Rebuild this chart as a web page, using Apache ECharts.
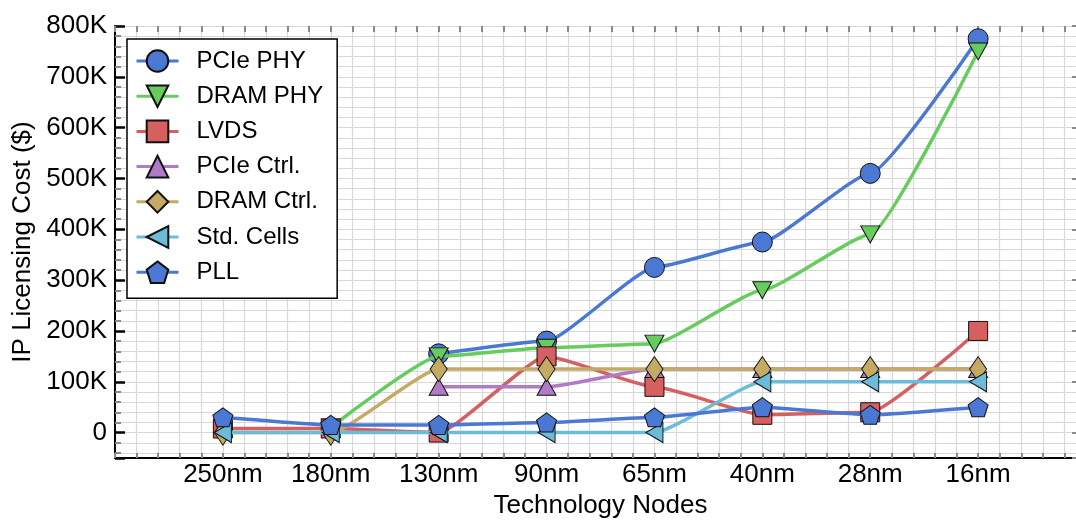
<!DOCTYPE html>
<html>
<head>
<meta charset="utf-8">
<script src="https://cdn.jsdelivr.net/npm/echarts@6/dist/echarts.min.js"></script>
<style>
html,body{margin:0;padding:0;background:#fff;}
#chart{width:1076px;height:520px;}
</style>
</head>
<body>
<div id="chart"></div>
<script>
var categories = ['250nm','180nm','130nm','90nm','65nm','40nm','28nm','16nm'];
var pciePhy  = [null, null, 155000, 180000, 325000, 375000, 510000, 775000];
var dramPhy  = [null, 10000, 150000, 167000, 175000, 280000, 390000, 750000];
var lvds     = [8000, 8000, 0, 150000, 90000, 35000, 40000, 200000];
var pcieCtrl = [null, null, 90000, 90000, 125000, 125000, 125000, 125000];
var dramCtrl = [0, 0, 125000, 125000, 125000, 125000, 125000, 125000];
var stdCells = [0, 0, 0, 0, 0, 100000, 100000, 100000];
var pll      = [30000, 15000, 15000, 20000, 30000, 50000, 35000, 50000];
var seriesNames = ['PCIe PHY','DRAM PHY','LVDS','PCIe Ctrl.','DRAM Ctrl.','Std. Cells','PLL'];
var colors = ['#4a78d2','#66cc5e','#d65f5f','#b07ac8','#c4aa62','#6bbcd8','#4a78d2'];

var pentagon = 'path://M0,-1 L0.951,-0.309 L0.588,0.809 L-0.588,0.809 L-0.951,-0.309 Z';
var symbols = [
  {symbol:'circle', size:20, rotate:0},
  {symbol:'triangle', size:[19,17], rotate:180},
  {symbol:'rect', size:19, rotate:0},
  {symbol:'triangle', size:[19,17], rotate:0},
  {symbol:'diamond', size:[17,25], rotate:0},
  {symbol:'triangle', size:[20,17], rotate:90},
  {symbol:pentagon, size:[20,19], rotate:0}
];
var allData = [pciePhy, dramPhy, lvds, pcieCtrl, dramCtrl, stdCells, pll];

function toPairs(arr){
  return arr.map(function(v,i){ return [i, v]; });
}

var series = allData.map(function(arr, k){
  return {
    name: seriesNames[k],
    type: 'line',
    data: toPairs(arr),
    smooth: 0.15,
    smoothMonotone: 'x',
    symbol: symbols[k].symbol,
    symbolSize: symbols[k].size,
    symbolRotate: symbols[k].rotate,
    showAllSymbol: true,
    lineStyle: {color: colors[k], width: 3.5},
    itemStyle: {color: colors[k], borderColor: '#111', borderWidth: 1, opacity: 1},
    emphasis: {disabled: true},
    z: 2 + k
  };
});

var font = 'Liberation Sans, Arial, Helvetica, sans-serif';
var gridColor = '#d8d8d8';
var tickGray = '#8a8a8a';

var chart = echarts.init(document.getElementById('chart'), null, {renderer:'canvas'});
chart.setOption({
  animation: false,
  backgroundColor: '#fff',
  textStyle: {fontFamily: font},
  grid: {left: 115, right: -10, top: 26, bottom: 62, containLabel: false, outerBoundsMode: 'none'},
  legend: {
    orient: 'vertical',
    left: 127, top: 39,
    data: seriesNames,
    backgroundColor: '#fff',
    borderColor: '#000',
    borderWidth: 1.5,
    borderRadius: 0,
    padding: [10, 14, 14, 8],
    itemWidth: 42,
    itemHeight: 27,
    itemGap: 11.2,
    lineStyle: {width: 3},
    textStyle: {fontSize: 24, color: '#000', fontFamily: font, padding: [0,0,0,13]},
    z: 20
  },
  xAxis: [{
    type: 'value',
    position: 'bottom',
    min: -1, max: 8, interval: 1,
    name: 'Technology Nodes',
    nameLocation: 'middle',
    nameGap: 31,
    nameTextStyle: {fontSize: 26, color: '#000', fontFamily: font},
    axisLine: {show: true, onZero: false, lineStyle: {color: '#000', width: 2}},
    axisTick: {show: true, inside: true, length: 5, lineStyle: {color: tickGray, width: 2}},
    minorTick: {show: true, splitNumber: 5, length: 5, lineStyle: {color: tickGray, width: 2}},
    axisLabel: {
      fontSize: 26, color: '#000', fontFamily: font, margin: 4,
      formatter: function(v){ return (v >= 0 && v < categories.length) ? categories[v] : ''; }
    },
    splitLine: {show: true, lineStyle: {color: gridColor, width: 1.2}},
    minorSplitLine: {show: true, lineStyle: {color: gridColor, width: 1.2}}
  },{
    type: 'value',
    position: 'top',
    min: -1, max: 8, interval: 1,
    axisLine: {show: false, onZero: false},
    axisTick: {show: true, inside: true, length: 6, lineStyle: {color: tickGray, width: 2}},
    minorTick: {show: true, splitNumber: 5, length: 6, lineStyle: {color: tickGray, width: 2}},
    axisLabel: {show: false},
    splitLine: {show: false}
  }],
  yAxis: [{
    type: 'value',
    position: 'left',
    min: -50000, max: 800000, splitNumber: 8,
    name: 'IP Licensing Cost ($)',
    nameLocation: 'middle',
    nameGap: 74,
    nameTextStyle: {fontSize: 26, color: '#000', fontFamily: font},
    axisLine: {show: true, onZero: false, lineStyle: {color: '#000', width: 2}},
    axisTick: {show: true, inside: true, length: 10, lineStyle: {color: '#000', width: 2.5}},
    minorTick: {show: true, splitNumber: 5, length: 6, lineStyle: {color: tickGray, width: 2}},
    axisLabel: {
      fontSize: 26, color: '#000', fontFamily: font, margin: 8,
      formatter: function(v){ if (v < 0) return ''; return v === 0 ? '0' : (v/1000) + 'K'; }
    },
    splitLine: {show: true, lineStyle: {color: gridColor, width: 1.2}},
    minorSplitLine: {show: true, lineStyle: {color: gridColor, width: 1.2}}
  },{
    type: 'value',
    position: 'right',
    min: -50000, max: 800000, splitNumber: 8,
    axisLine: {show: false, onZero: false},
    axisTick: {show: true, inside: true, length: 14, lineStyle: {color: tickGray, width: 2}},
    axisLabel: {show: false},
    splitLine: {show: false}
  }],
  series: series
});
</script>
</body>
</html>
